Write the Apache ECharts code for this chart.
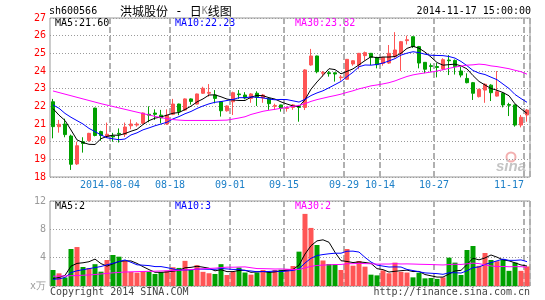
<!DOCTYPE html>
<html><head><meta charset="utf-8">
<script src="https://cdn.jsdelivr.net/npm/echarts/dist/echarts.min.js"></script>
<style>html,body{margin:0;padding:0;background:#fff}#c{width:545px;height:300px}</style>
</head><body><div id="c"></div>
<script>
// ---- data ----
const dates = ['2014-07-21','2014-07-22','2014-07-23','2014-07-24','2014-07-25','2014-07-28','2014-07-29','2014-07-30','2014-07-31','2014-08-01',
'2014-08-04','2014-08-05','2014-08-06','2014-08-07','2014-08-08','2014-08-11','2014-08-12','2014-08-13','2014-08-14','2014-08-15',
'2014-08-18','2014-08-19','2014-08-20','2014-08-21','2014-08-22','2014-08-25','2014-08-26','2014-08-27','2014-08-28','2014-08-29',
'2014-09-01','2014-09-02','2014-09-03','2014-09-04','2014-09-05','2014-09-09','2014-09-10','2014-09-11','2014-09-12','2014-09-15',
'2014-09-16','2014-09-17','2014-09-18','2014-09-19','2014-09-22','2014-09-23','2014-09-24','2014-09-25','2014-09-26','2014-09-29',
'2014-09-30','2014-10-08','2014-10-09','2014-10-10','2014-10-13','2014-10-14','2014-10-15','2014-10-16','2014-10-17','2014-10-20',
'2014-10-21','2014-10-22','2014-10-23','2014-10-24','2014-10-27','2014-10-28','2014-10-29','2014-10-30','2014-10-31','2014-11-03',
'2014-11-04','2014-11-05','2014-11-06','2014-11-07','2014-11-10','2014-11-11','2014-11-12','2014-11-13','2014-11-14','2014-11-17'];

const opens = [22.26,20.85,21.0,20.32,18.74,20.0,20.06,21.9,20.57,20.28,
20.32,20.47,20.42,20.9,20.94,21.04,21.55,21.62,21.5,21.0,
21.55,22.13,21.79,22.42,22.13,22.74,22.74,22.64,22.26,21.75,
22.26,22.7,22.64,22.45,22.74,22.47,22.45,22.0,22.08,21.88,
21.94,22.0,21.94,24.34,24.85,23.87,23.9,23.9,23.62,23.53,
24.4,24.34,24.87,25.0,24.77,24.43,24.45,24.81,25.0,25.72,
25.94,25.38,24.49,24.3,24.25,24.12,24.62,24.6,24.0,23.58,
23.34,22.55,22.92,23.2,22.58,22.74,22.1,22.08,20.94,21.51];

const closes = [20.85,20.98,20.40,18.72,19.77,19.90,20.47,20.35,20.35,20.42,
20.27,20.42,20.83,21.00,21.00,21.62,21.50,21.55,21.35,21.50,
22.13,21.70,22.42,22.28,22.70,23.02,22.79,22.45,21.75,22.02,
22.77,22.66,22.47,22.70,22.51,22.64,22.15,22.05,21.90,21.92,
22.08,21.94,24.06,24.85,23.96,23.92,23.85,23.83,23.66,24.66,
24.58,25.00,25.04,24.77,24.36,24.77,25.00,25.19,25.66,25.77,
25.38,24.45,24.10,24.26,24.20,24.64,24.58,24.25,23.77,23.34,
22.74,22.96,23.25,22.77,22.83,22.08,22.06,20.94,21.38,21.79];

const highs = [22.42,21.23,21.3,20.4,20.0,20.25,20.5,21.92,20.62,21.08,
20.5,20.75,21.08,21.26,21.1,21.65,22.0,21.83,21.8,21.83,
22.42,22.15,22.45,22.45,22.72,23.11,23.26,22.92,22.3,22.05,
22.83,22.92,22.8,22.75,22.85,22.7,22.5,22.15,22.1,22.0,
22.13,22.08,24.1,25.25,24.87,24.0,24.0,23.92,23.77,24.68,
24.6,25.02,25.1,25.02,24.8,24.8,25.47,26.2,25.7,26.0,
25.96,25.42,24.5,24.43,24.45,24.72,24.9,24.65,24.25,23.87,
23.38,23.0,23.3,23.25,24.0,22.8,22.2,22.1,21.51,21.85];

const lows = [20.19,20.51,20.25,18.4,18.68,19.38,20.0,20.3,20.05,20.2,
20.0,19.95,20.27,20.7,20.85,20.98,21.1,21.23,21.04,20.95,
21.5,21.5,21.75,22.1,22.1,22.7,22.55,22.17,21.42,21.7,
21.51,22.42,22.4,22.2,22.02,22.2,21.8,21.8,21.7,21.7,
21.8,21.13,21.79,24.3,23.87,23.68,23.68,23.4,23.45,23.5,
24.3,24.1,24.6,24.34,24.15,24.3,24.4,24.75,24.0,25.5,
25.3,24.15,23.88,23.96,23.64,24.05,23.77,23.8,23.64,23.3,
22.36,22.5,22.2,22.3,22.55,21.94,21.45,20.85,20.81,21.13];

const ma5 = [21.87,21.5,21.2,20.66,20.1,19.95,19.85,19.84,20.17,20.30,
20.37,20.36,20.46,20.59,20.70,20.97,21.19,21.33,21.40,21.50,
21.61,21.65,21.82,22.01,22.25,22.42,22.64,22.65,22.54,22.41,
22.36,22.33,22.33,22.52,22.62,22.60,22.49,22.41,22.25,22.13,
22.02,21.98,22.38,22.97,23.38,23.75,24.13,24.08,23.84,23.98,
24.12,24.35,24.59,24.81,24.75,24.79,24.79,24.82,25.00,25.28,
25.40,25.29,25.07,24.79,24.48,24.33,24.36,24.39,24.29,24.12,
23.74,23.41,23.21,23.01,22.91,22.78,22.60,22.14,21.86,21.60];

const ma10 = [22.08,21.89,21.6,21.38,21.19,21.0,20.75,20.57,20.38,20.22,
20.16,20.11,20.15,20.38,20.50,20.67,20.78,20.90,21.00,21.10,
21.29,21.42,21.58,21.71,21.88,22.02,22.14,22.23,22.27,22.33,
22.39,22.49,22.49,22.53,22.51,22.48,22.41,22.37,22.39,22.38,
22.31,22.24,22.40,22.61,22.76,22.88,23.05,23.23,23.41,23.68,
23.93,24.24,24.34,24.33,24.37,24.45,24.57,24.70,24.90,25.01,
25.09,25.04,24.95,24.89,24.88,24.87,24.82,24.73,24.54,24.30,
24.03,23.88,23.80,23.65,23.51,23.26,23.01,22.67,22.44,22.23];

const ma30 = [22.87,22.78,22.69,22.60,22.51,22.42,22.33,22.24,22.15,22.07,
21.99,21.91,21.83,21.75,21.67,21.59,21.51,21.43,21.36,21.30,
21.25,21.22,21.20,21.20,21.20,21.20,21.20,21.20,21.21,21.22,
21.28,21.34,21.41,21.54,21.63,21.72,21.78,21.83,21.89,21.94,
22.00,22.05,22.15,22.28,22.38,22.46,22.54,22.61,22.69,22.79,
22.88,22.99,23.07,23.16,23.21,23.27,23.34,23.44,23.57,23.69,
23.78,23.84,23.89,23.94,24.00,24.07,24.15,24.22,24.28,24.33,
24.35,24.39,24.36,24.29,24.25,24.19,24.13,24.04,23.96,23.82];

const vols = [2.26,1.79,1.20,5.22,5.50,2.68,2.54,3.08,2.02,3.67,
4.38,4.14,3.53,2.00,1.88,2.12,2.00,1.70,1.95,2.15,
2.65,2.55,3.55,2.26,2.94,2.00,1.80,1.70,3.08,1.55,
2.00,2.60,1.90,1.60,1.90,2.26,1.95,2.26,2.30,2.40,
2.82,4.85,10.18,8.20,5.79,3.60,3.10,3.10,2.26,5.22,
2.87,3.53,2.73,1.60,1.50,2.20,1.80,3.30,2.00,1.90,
1.22,1.88,1.08,1.13,1.00,1.22,4.00,3.30,1.55,5.08,
5.65,2.85,4.66,3.67,3.50,3.76,2.14,3.30,2.14,2.76];

const vma5 = [1.05,1.2,1.5,2.8,3.19,3.28,3.43,3.80,3.16,2.80,
3.14,3.46,3.55,3.54,3.19,2.73,2.31,1.94,1.93,1.98,
2.09,2.20,2.57,2.63,2.79,2.66,2.51,2.14,2.30,2.03,
2.03,2.19,2.23,1.93,2.00,2.05,1.92,1.99,2.13,2.23,
2.35,2.93,4.51,5.69,6.37,6.52,6.17,4.76,3.57,3.46,
3.31,3.40,3.32,3.19,2.45,2.31,1.97,2.08,2.16,2.24,
2.04,2.06,1.62,1.44,1.26,1.26,1.69,2.13,2.21,3.03,
3.92,3.69,3.96,4.38,4.07,3.69,3.55,3.27,2.97,2.82];

const vma10 = [0.95,1.0,1.2,1.9,2.15,2.3,2.45,2.6,2.75,3.00,
3.21,3.44,3.68,3.35,2.99,2.94,2.88,2.74,2.74,2.59,
2.41,2.25,2.26,2.28,2.39,2.38,2.36,2.36,2.47,2.41,
2.34,2.35,2.18,2.12,2.01,2.04,2.05,2.11,2.03,2.12,
2.20,2.42,3.25,3.91,4.30,4.44,4.55,4.63,4.63,4.91,
4.92,4.79,4.04,3.38,2.95,2.81,2.68,2.70,2.68,2.34,
2.18,2.01,1.85,1.80,1.75,1.65,1.87,1.87,1.83,2.15,
2.59,2.69,3.04,3.30,3.55,3.80,3.62,3.62,3.68,3.44];

const vma30 = [1.38,1.40,1.42,1.45,1.48,1.52,1.56,1.62,1.70,1.78,
1.86,1.92,1.97,2.00,2.03,2.05,2.07,2.09,2.12,2.15,
2.18,2.22,2.28,2.33,2.38,2.43,2.48,2.52,2.60,2.66,
2.65,2.68,2.70,2.58,2.46,2.45,2.43,2.40,2.41,2.37,
2.32,2.34,2.56,2.77,2.90,2.95,2.99,3.03,3.04,3.15,
3.15,3.19,3.16,3.14,3.09,3.10,3.10,3.15,3.11,3.12,
3.10,3.07,3.05,3.03,3.00,2.97,3.03,3.07,3.04,3.13,
3.23,3.16,2.98,2.83,2.75,2.76,2.72,2.73,2.73,2.64];

// tick labels
const labelIdx = [10,20,30,39,49,55,64,79];
const fullDateIdx = [10];
const priceMin = 18, priceMax = 27, priceStep = 1;
const volMin = 0, volMax = 12, volStep = 4;
const volZeroLabel = 'x万';

// ---- chart ----
const RED = '#ff5555', GREEN = '#00a000';
const MONO = "'DejaVu Sans Mono', monospace";
const CJK = "'Noto Sans CJK SC', sans-serif";
const chart = echarts.init(document.getElementById('c'), null, {renderer:'canvas'});

const candleData = dates.map((d,i)=>[opens[i], closes[i], lows[i], highs[i]]);
const volData = vols.map((v,i)=>({value:v, itemStyle:{color: closes[i] >= opens[i] ? RED : GREEN}}));
const showAt = (i)=> labelIdx.indexOf(i) >= 0;
const vSplit = {show:true, interval:(i)=>showAt(i), lineStyle:{type:[6,3], color:'#b0b0b0', width:2}};
const hSplit = {show:true, lineStyle:{type:[1,2], color:'#9a9a9a', width:1}};

function lineS(data, color, xi, yi){
  return {type:'line', xAxisIndex:xi, yAxisIndex:yi, data:data, symbol:'none', showSymbol:false,
    lineStyle:{width:1, color:color}, itemStyle:{color:color}, z:5, silent:true, animation:false};
}

const txt = (x,y,text,fill,align,font)=>({type:'text', x:x, y:y, silent:true,
  style:{text:text, fill:fill, align:align||'left', verticalAlign:'middle', font:font||('10px '+MONO)}});

const option = {
  animation:false,
  backgroundColor:'#fff',
  grid:[
    {left:50, top:18, width:480, height:159, show:true, borderColor:'#999', borderWidth:1},
    {left:50, top:201, width:480, height:85, show:true, borderColor:'#999', borderWidth:1}
  ],
  xAxis:[
    {type:'category', gridIndex:0, data:dates, boundaryGap:true,
     axisLine:{show:false}, axisTick:{show:false},
     axisLabel:{interval:(i)=>showAt(i), margin:3, fontFamily:MONO, fontSize:10, color:'#1e80c8',
       formatter:(v,i)=>{
         const t = fullDateIdx.indexOf(i)>=0 ? v : v.slice(5);
         return i === labelIdx[labelIdx.length-1] ? '{e|'+t+'}' : '{a|'+t+'}';
       },
       rich:{a:{padding:[0,6,0,0], fontFamily:MONO, fontSize:10, color:'#1e80c8'},
             e:{padding:[0,36,0,0], fontFamily:MONO, fontSize:10, color:'#1e80c8'}}},
     splitLine:vSplit},
    {type:'category', gridIndex:1, data:dates, boundaryGap:true,
     axisLine:{show:false}, axisTick:{show:false}, axisLabel:{show:false},
     splitLine:vSplit}
  ],
  yAxis:[
    {type:'value', gridIndex:0, min:priceMin, max:priceMax, interval:priceStep, scale:true,
     axisLine:{show:false}, axisTick:{show:false},
     axisLabel:{margin:4, fontFamily:MONO, fontSize:10, color:'#ff0000'},
     splitLine:hSplit},
    {type:'value', gridIndex:1, min:volMin, max:volMax, interval:volStep,
     axisLine:{show:false}, axisTick:{show:false},
     axisLabel:{margin:4, fontFamily:MONO, fontSize:10, color:'#999',
       formatter:(v)=> v===0 ? volZeroLabel : String(v)},
     splitLine:hSplit}
  ],
  series:[
    {type:'candlestick', xAxisIndex:0, yAxisIndex:0, data:candleData, barWidth:4,
     itemStyle:{color:RED, color0:GREEN, borderColor:RED, borderColor0:GREEN, borderWidth:1}, z:3},
    lineS(ma5,'#000000',0,0), lineS(ma10,'#0000ff',0,0), lineS(ma30,'#ff00ff',0,0),
    {type:'bar', xAxisIndex:1, yAxisIndex:1, data:volData, barWidth:5, z:3},
    lineS(vma5,'#000000',1,1), lineS(vma10,'#0000ff',1,1), lineS(vma30,'#ff00ff',1,1)
  ],
  graphic:[
    txt(49, 11.5, 'sh600566', '#000'),
    {type:'text', x:120, y:11.5, silent:true, style:{
      text:'{c|洪城股份}{m| - }{c|日}{k|K}{c|线图}', verticalAlign:'middle', align:'left',
      rich:{c:{font:'12px '+CJK, fill:'#000'}, m:{font:'12px '+MONO, fill:'#000'}, k:{font:'10px '+MONO, fill:'#888'}}}},
    txt(531, 11.5, '2014-11-17 15:00:00', '#000', 'right'),
    txt(55, 23.5, 'MA5:' + ma5[ma5.length-1].toFixed(2), '#000'),
    txt(175, 23.5, 'MA10:' + ma10[ma10.length-1].toFixed(2), '#0000ff'),
    txt(295, 23.5, 'MA30:' + ma30[ma30.length-1].toFixed(2), '#ff00ff'),
    txt(55, 206.5, 'MA5:' + Math.floor(vma5[vma5.length-1]), '#000'),
    txt(175, 206.5, 'MA10:' + Math.floor(vma10[vma10.length-1]), '#0000ff'),
    txt(295, 206.5, 'MA30:' + Math.floor(vma30[vma30.length-1]), '#ff00ff'),
    txt(50, 292.5, 'Copyright 2014 SINA.COM', '#444'),
    txt(530, 292.5, 'http://finance.sina.com.cn', '#444', 'right'),
    {type:'circle', shape:{cx:511, cy:157, r:4.5}, silent:true, style:{fill:'none', stroke:'#f3b0b0', lineWidth:2}},
    txt(496, 166.5, 'sina', '#c4c4c4', 'left', 'italic bold 15px "Liberation Sans"')
  ]
};
chart.setOption(option);
</script>
</body></html>
